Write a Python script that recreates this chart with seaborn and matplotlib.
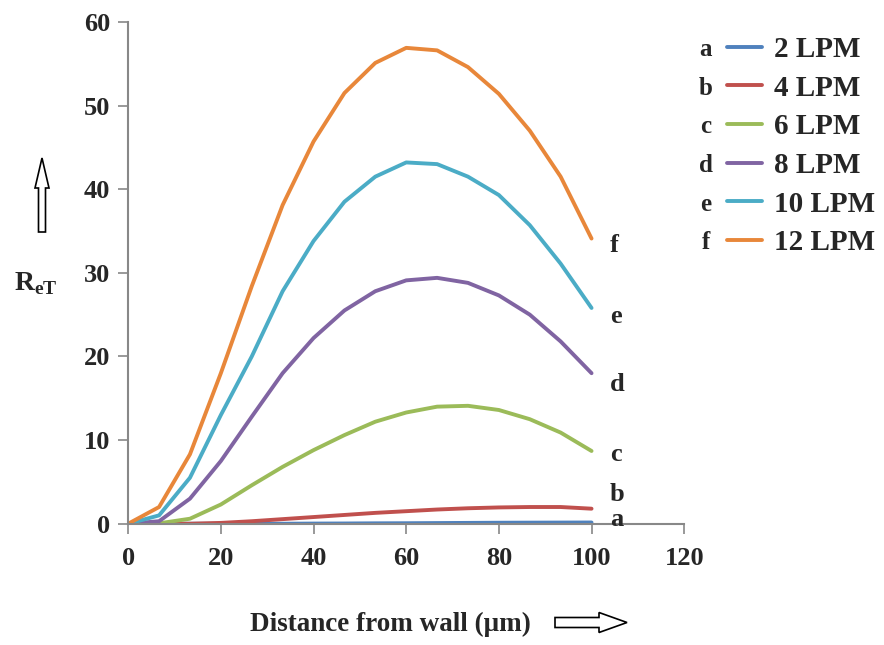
import numpy as np
import pandas as pd
import matplotlib
matplotlib.use('Agg')
import matplotlib.pyplot as plt
from matplotlib.patches import FancyArrow
import seaborn as sns

# distance from wall (um), 16 points
distance = [0, 6.67, 13.33, 20, 26.67, 33.33, 40, 46.67, 53.33, 60, 66.67, 73.33, 80, 86.67, 93.33, 100]

ret_2lpm = [0, 0, 0, 0, 0, 0, 0.02, 0.03, 0.05, 0.06, 0.08, 0.1, 0.12, 0.13, 0.14, 0.15]
ret_4lpm = [0, 0, 0, 0.1, 0.3, 0.55, 0.8, 1.05, 1.3, 1.5, 1.7, 1.85, 1.95, 2.0, 2.0, 1.8]
ret_6lpm = [0, 0.05, 0.6, 2.3, 4.6, 6.8, 8.8, 10.6, 12.2, 13.3, 14.0, 14.1, 13.6, 12.5, 10.9, 8.7]
ret_8lpm = [0, 0.3, 3.0, 7.5, 12.8, 18.0, 22.2, 25.5, 27.8, 29.1, 29.4, 28.8, 27.3, 25.0, 21.8, 18.0]
ret_10lpm = [0, 1.0, 5.5, 13.0, 20.0, 27.8, 33.8, 38.5, 41.5, 43.2, 43.0, 41.5, 39.3, 35.7, 31.1, 25.8]
ret_12lpm = [0, 2.0, 8.3, 18.0, 28.4, 38.1, 45.7, 51.5, 55.1, 56.9, 56.6, 54.6, 51.4, 47.0, 41.5, 34.1]

series_names = ['2 LPM', '4 LPM', '6 LPM', '8 LPM', '10 LPM', '12 LPM']
letters = ['a', 'b', 'c', 'd', 'e', 'f']
colors = ['#4F81BD', '#C0504D', '#9BBB59', '#8064A2', '#4BACC6', '#E8873A']

all_series = [ret_2lpm, ret_4lpm, ret_6lpm, ret_8lpm, ret_10lpm, ret_12lpm]
rows = []
for name, vals in zip(series_names, all_series):
    for d, v in zip(distance, vals):
        rows.append({'distance': d, 'ReT': v, 'flow': name})
df = pd.DataFrame(rows)

sns.set_style('white')
plt.rcParams['font.family'] = ['Liberation Serif', 'DejaVu Serif']
plt.rcParams['font.weight'] = 'bold'
plt.rcParams['mathtext.fontset'] = 'custom'
plt.rcParams['mathtext.rm'] = 'Liberation Serif'
plt.rcParams['mathtext.bf'] = 'Liberation Serif:bold'

fig = plt.figure(figsize=(8.84, 6.45), dpi=100)
ax = fig.add_axes([0.145, 0.188, 0.629, 0.778])

sns.lineplot(data=df, x='distance', y='ReT', hue='flow', hue_order=series_names,
             palette=colors, linewidth=2.8, legend=False, ax=ax)

ax.set_xlim(0, 120)
ax.set_ylim(0, 60)
ax.set_xticks(range(0, 121, 20))
ax.set_yticks(range(0, 61, 10))
for lab in ax.get_xticklabels() + ax.get_yticklabels():
    lab.set_fontweight('bold')
    lab.set_fontsize(19)
ax.tick_params(axis='both', direction='out', length=7, width=1.2, color='#888888',
               left=True, bottom=True)
ax.tick_params(axis='y', pad=6)
ax.tick_params(axis='x', pad=10)
for side in ['top', 'right']:
    ax.spines[side].set_visible(False)
for side in ['left', 'bottom']:
    ax.spines[side].set_color('#888888')
    ax.spines[side].set_linewidth(1.5)
ax.set_xlabel('')
ax.set_ylabel('')

# letters at the end of each curve
end_offsets = [0.4, 1.7, -0.4, -1.3, -1.0, -0.8]
for letter, vals, off in zip(letters, all_series, end_offsets):
    ax.text(104, vals[-1] + off, letter, fontsize=19, fontweight='bold',
            ha='left', va='center', clip_on=False)

# legend with letter prefixes
handles = [plt.Line2D([], [], color=c, linewidth=2.8) for c in colors]
leg = fig.legend(handles, series_names, loc='upper left',
                 bbox_to_anchor=(727 / 884, 1 - 36 / 645), frameon=False,
                 prop={'family': 'Liberation Serif', 'weight': 'bold', 'size': 21},
                 handlelength=1.2, handletextpad=0.4, labelspacing=0.4,
                 borderaxespad=0, borderpad=0)
fig.canvas.draw()
inv = fig.transFigure.inverted()
for letter, txt in zip(letters, leg.get_texts()):
    bb = txt.get_window_extent()
    yc = inv.transform(((bb.x0 + bb.x1) / 2, (bb.y0 + bb.y1) / 2))[1]
    fig.text(706 / 884, yc, letter, fontsize=18, fontweight='bold', ha='center', va='center')

# axis labels
fig.text(390 / 884, 1 - 624 / 645, 'Distance from wall (\u03bcm)', fontsize=19.5,
         fontweight='bold', ha='center', va='center')
fig.text(36 / 884, 1 - 284 / 645, r'$\mathbf{R}_{\mathbf{eT}}$', fontsize=20,
         ha='center', va='center')

# hollow arrows
up = FancyArrow(0.42, 4.13, 0, 0.74, width=0.07, head_width=0.14, head_length=0.3,
                length_includes_head=True, facecolor='white', edgecolor='black',
                linewidth=1.2, transform=fig.dpi_scale_trans)
fig.add_artist(up)
right = FancyArrow(5.55, 0.225, 0.72, 0, width=0.1, head_width=0.2, head_length=0.28,
                   length_includes_head=True, facecolor='white', edgecolor='black',
                   linewidth=1.2, transform=fig.dpi_scale_trans)
fig.add_artist(right)

fig.savefig('out.png', dpi=100)
